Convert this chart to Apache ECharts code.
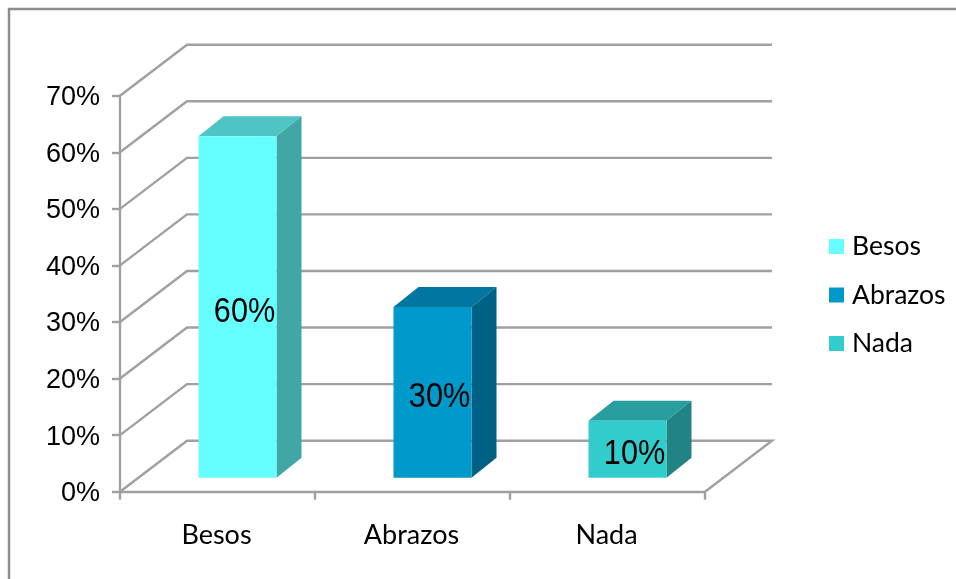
<!DOCTYPE html>
<html>
<head>
<meta charset="utf-8">
<style>html,body{margin:0;padding:0;background:#fff}#c{width:956px;height:579px}</style>
<script src="https://cdn.jsdelivr.net/npm/echarts@6/dist/echarts.min.js"></script>
</head>
<body>
<div id="c"></div>
<script>
const categories = ['Besos', 'Abrazos', 'Nada'];
const values = [60, 30, 10];
const gridTicks = [0, 10, 20, 30, 40, 50, 60, 70];
const frontColors = ['#66FFFF', '#0099CC', '#33CCCC'];
const topColors = ['#4EC4C4', '#0076A0', '#299E9E'];
const sideColors = ['#41A6A6', '#006186', '#208484'];

const WALL_DX = 67, WALL_DY = -51;
const BAR_DX = 20, BAR_DY = -14, DEPTH_DX = 25, DEPTH_DY = -20, BAR_SCALE = 1.006;
const LINE = '#A0A0A0';

const chart = echarts.init(document.getElementById('c'), null, {renderer: 'canvas'});

function renderWall(params, api) {
  const v = api.value(0);
  const p = api.coord([0, v]);
  const x0 = params.coordSys.x, w = params.coordSys.width;
  const y = p[1];
  const st = {stroke: LINE, lineWidth: 2.4, fill: null};
  const pts = [[x0, y], [x0 + WALL_DX, y + WALL_DY], [x0 + w + WALL_DX, y + WALL_DY]];
  if (v === 0) pts.push([x0 + w, y]);
  return {type: 'polyline', shape: {points: pts}, style: st, silent: true};
}

function makeBar(i) {
  return function (params, api) {
    const top = api.coord([i, api.value(1)]);
    const base = api.coord([i, 0]);
    const bw = api.size([1, 0])[0] * 0.4;
    const xl = top[0] - bw / 2 + BAR_DX, xr = xl + bw;
    const yb = base[1] + BAR_DY;
    const yt = yb - (base[1] - top[1]) * BAR_SCALE;
    return {
      type: 'group',
      children: [
        {type: 'polygon', shape: {points: [[xl, yt], [xl + DEPTH_DX, yt + DEPTH_DY], [xr + DEPTH_DX, yt + DEPTH_DY], [xr, yt]]},
          style: {fill: topColors[i]}},
        {type: 'polygon', shape: {points: [[xr, yt], [xr + DEPTH_DX, yt + DEPTH_DY], [xr + DEPTH_DX, yb + DEPTH_DY], [xr, yb]]},
          style: {fill: sideColors[i]}},
        {type: 'rect', shape: {x: xl, y: yt, width: bw, height: yb - yt}, style: {fill: frontColors[i]}},
        {type: 'text', x: (xl + xr) / 2 + 7, y: (yt + yb) / 2 + 5, scaleX: 0.875,
          style: {x: 0, y: 0, text: api.value(1) + '%',
            align: 'center', verticalAlign: 'middle', fill: '#000',
            font: '35px "Liberation Sans", Arial, sans-serif'}}
      ]
    };
  };
}

const option = {
  animation: false,
  backgroundColor: '#fff',
  graphic: [{type: 'rect', silent: true, z: -1, shape: {x: 9, y: 9, width: 1000, height: 700},
    style: {fill: null, stroke: '#8C8C8C', lineWidth: 2.5}}],
  grid: {left: 120, top: 95.7, width: 585, height: 396},
  legend: {
    orient: 'vertical', left: 829, top: 233, padding: 0, itemWidth: 15, itemHeight: 15, itemGap: 21.5,
    icon: 'rect', data: categories, selectedMode: false,
    textStyle: {fontFamily: 'Lato', fontSize: 26.5, color: '#000', padding: [0, 0, 0, 3]}
  },
  xAxis: {
    type: 'category', data: categories, boundaryGap: true,
    axisLine: {lineStyle: {color: LINE, width: 2.4}},
    axisTick: {show: true, length: 8, alignWithLabel: false, lineStyle: {color: LINE, width: 2.4}},
    axisLabel: {fontFamily: 'Lato', fontSize: 27, color: '#000', margin: 30, padding: [0, 2, 0, 0]}
  },
  yAxis: {
    type: 'value', min: 0, max: 70, interval: 10,
    axisLine: {show: true, lineStyle: {color: LINE, width: 2.4}},
    axisTick: {show: true, length: 8, lineStyle: {color: LINE, width: 2.4}},
    splitLine: {show: false},
    axisLabel: {formatter: '{a|{value}%}', margin: 20,
      rich: {a: {fontFamily: 'Liberation Sans', fontSize: 27, color: '#000', padding: [4, 0, 0, 0]}}}
  },
  series: [
    {type: 'custom', name: 'wall', coordinateSystem: 'cartesian2d', z: 1, silent: true,
      renderItem: renderWall, encode: {y: 0},
      data: gridTicks.map(v => [v])}
  ].concat(categories.map((c, i) => ({
    type: 'custom', name: c, coordinateSystem: 'cartesian2d', z: 3,
    itemStyle: {color: frontColors[i]},
    renderItem: makeBar(i), encode: {x: 0, y: 1},
    data: [[i, values[i]]]
  })))
};
chart.setOption(option);
</script>
</body>
</html>
